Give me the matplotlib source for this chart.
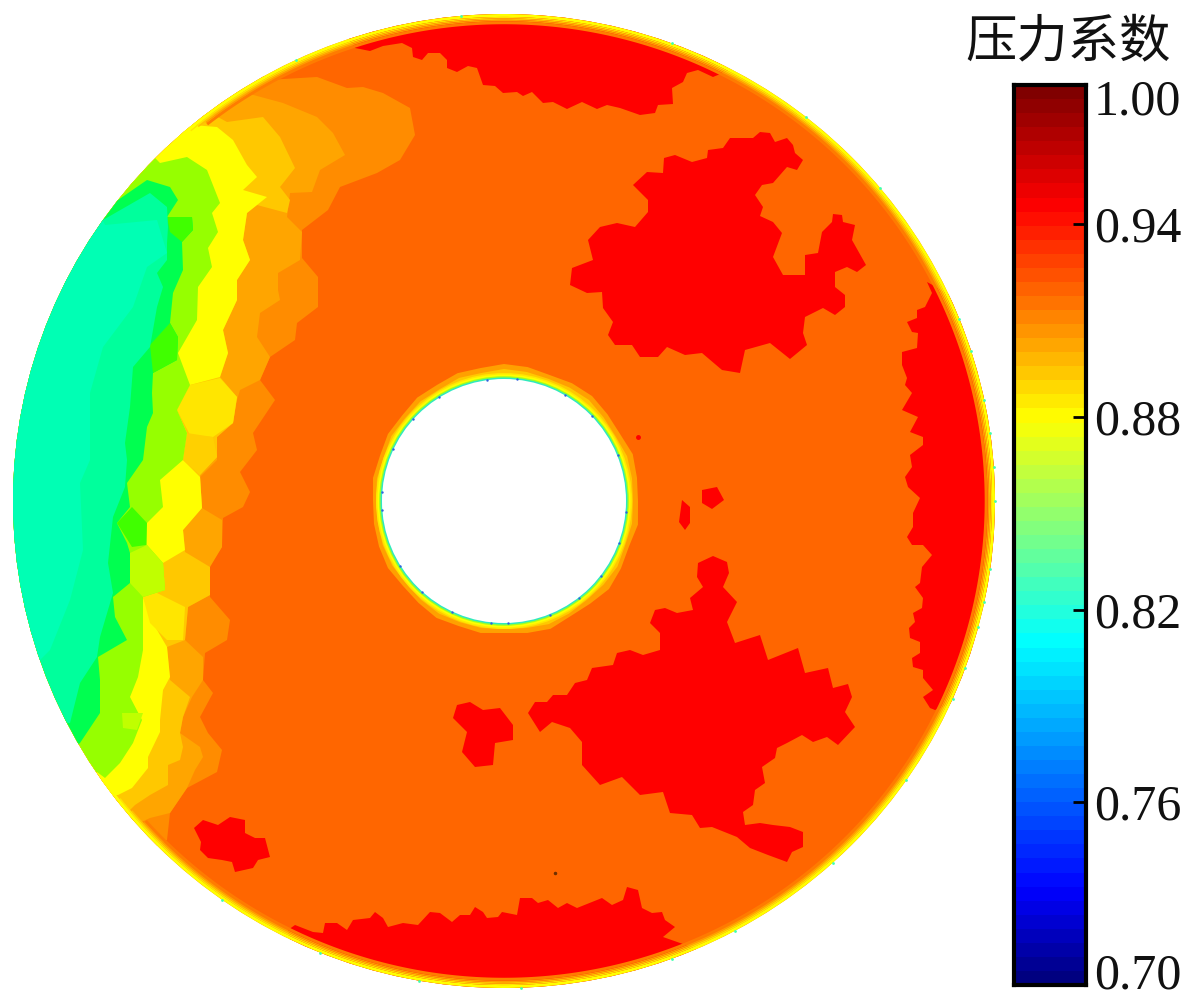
import numpy as np
import matplotlib
matplotlib.use('Agg')
import matplotlib.pyplot as plt
from matplotlib.colors import LinearSegmentedColormap
from matplotlib.patches import Ellipse, Circle

# disk outline in picture pixels
cx, cy = 504, 501
rx, ry = 491, 487
hole_r = 122

# region outlines
band_a = [(250,60),(267,80),(317,77),(347,88),(363,87),(383,93),(410,108),(415,135),(400,160),(377,173),(340,187),(328,210),(302,230),(302,258),(318,277),(318,307),(297,323),(295,340),(270,357),(260,380),(275,400),(253,433),(257,450),(240,472),(250,492),(243,507),(223,518),(222,547),(210,565),(210,597),(230,620),(227,640),(205,653),(203,680),(213,693),(200,717),(208,733),(222,750),(217,772),(187,788),(170,813),(167,840),(150,850),(0,850),(0,0)]
band_b = [(235,90),(283,103),(317,117),(333,133),(345,155),(320,170),(312,192),(290,193),(287,217),(302,232),(300,260),(278,273),(278,290),(280,300),(260,313),(257,337),(270,357),(260,380),(240,390),(237,400),(233,423),(217,437),(217,460),(200,477),(202,508),(222,520),(222,547),(210,567),(210,595),(188,607),(185,640),(203,657),(203,680),(192,697),(183,717),(180,733),(200,747),(203,757),(195,770),(187,788),(170,813),(150,818),(135,825),(0,825),(0,0)]
band_gold = [(205,110),(227,122),(263,117),(280,137),(295,168),(280,187),(290,200),(287,213),(257,205),(247,213),(243,240),(250,260),(237,280),(237,300),(223,330),(228,353),(220,377),(237,397),(233,423),(217,437),(217,457),(200,475),(202,508),(183,530),(185,552),(210,567),(210,595),(188,607),(185,640),(167,647),(170,680),(190,697),(183,717),(180,733),(183,747),(180,760),(168,765),(168,785),(150,795),(135,805),(125,815),(0,815),(0,0)]
band_yellow = [(192,125),(217,127),(233,140),(247,165),(257,177),(243,190),(267,197),(247,213),(243,240),(250,260),(237,280),(237,300),(223,330),(228,353),(220,377),(190,385),(177,410),(187,433),(183,460),(200,477),(202,508),(183,530),(185,550),(163,563),(165,590),(143,597),(153,623),(167,647),(170,677),(163,690),(160,720),(160,732),(148,757),(148,768),(132,788),(118,795),(0,800),(0,0)]
band_lime = [(160,163),(187,157),(207,170),(220,203),(212,213),(218,232),(208,248),(212,267),(198,287),(197,320),(178,353),(190,385),(177,410),(187,433),(183,460),(160,480),(163,507),(147,523),(147,545),(163,563),(165,590),(143,597),(143,650),(138,677),(130,697),(142,720),(133,743),(120,763),(105,778),(97,772),(0,780),(0,0)]
band_green = [(118,200),(147,180),(170,187),(178,200),(167,217),(192,217),(193,230),(182,242),(183,270),(173,293),(170,323),(178,337),(177,360),(153,373),(152,393),(153,413),(147,427),(143,460),(127,483),(130,507),(117,523),(127,543),(130,553),(130,583),(113,597),(115,617),(127,640),(98,657),(100,680),(100,713),(80,743),(70,750),(0,750),(0,0)]
band_teal2 = [(103,220),(150,193),(167,207),(168,227),(167,243),(167,260),(157,273),(163,287),(157,307),(150,347),(133,367),(130,407),(125,443),(127,460),(125,487),(113,517),(108,563),(113,593),(100,637),(97,657),(80,683),(70,723),(0,723),(0,0)]
band_teal = [(105,225),(157,220),(167,253),(147,267),(133,307),(103,347),(90,393),(90,460),(80,483),(83,550),(70,600),(50,650),(40,660),(0,660),(0,0)]

cell_lightgreen = [[(167,217),(192,217),(193,230),(182,242),(170,232)],[(150,345),(170,323),(178,337),(177,360),(153,373)],[(117,523),(132,507),(147,523),(146,545),(132,547)]]
cell_yellowgreen = [[(130,553),(147,545),(163,563),(165,590),(143,597),(130,583)],[(122,713),(143,713),(137,730),(123,728)]]
cell_palegold = [[(177,410),(190,385),(220,378),(237,397),(233,423),(213,437),(190,435)],[(143,597),(155,592),(185,607),(183,640),(167,640),(150,623)]]
cell_gold = [[(187,433),(213,437),(217,457),(200,475),(183,460)]]

red_top = [(355,48),(370,51),(383,46),(402,43),(412,48),(413,57),(422,60),(428,53),(440,53),(447,60),(447,68),(457,72),(468,66),(477,68),(483,85),(495,86),(503,93),(517,92),(523,96),(532,92),(543,103),(553,102),(567,109),(582,102),(597,109),(607,105),(620,108),(640,115),(655,113),(658,105),(673,104),(672,88),(683,82),(687,73),(698,70),(713,77),(730,70),(640,10),(504,0),(400,5),(345,35)]
red_upper = [(633,185),(647,172),(663,173),(664,158),(675,155),(692,162),(707,158),(708,150),(723,148),(730,138),(753,138),(760,132),(770,133),(775,142),(787,138),(793,145),(795,153),(803,160),(797,170),(787,167),(773,183),(762,185),(755,195),(763,207),(760,216),(773,222),(782,233),(773,257),(783,275),(805,275),(805,255),(818,253),(822,232),(832,222),(833,214),(842,215),(843,222),(855,225),(852,240),(866,265),(857,272),(847,267),(835,272),(835,287),(845,295),(845,307),(835,315),(823,308),(805,317),(803,333),(807,345),(790,359),(770,343),(745,350),(740,373),(722,370),(702,353),(685,355),(667,347),(658,357),(640,357),(632,345),(615,345),(608,335),(613,322),(603,308),(602,292),(587,293),(570,285),(572,268),(593,260),(588,240),(600,227),(617,223),(635,227),(648,212),(648,200)]
red_lower = [(528,713),(535,702),(547,702),(553,695),(567,695),(575,683),(587,680),(592,668),(613,665),(617,653),(630,650),(643,655),(660,650),(660,633),(650,623),(655,610),(665,608),(677,613),(693,610),(690,598),(703,587),(697,577),(698,563),(713,556),(727,562),(729,573),(723,587),(737,602),(727,622),(735,643),(760,635),(768,660),(798,648),(805,673),(828,668),(833,688),(848,684),(852,697),(845,712),(855,727),(838,745),(827,737),(813,742),(802,735),(787,743),(777,748),(775,758),(762,767),(765,783),(755,790),(753,805),(743,812),(745,825),(760,823),(773,825),(790,827),(803,832),(803,847),(792,852),(787,862),(768,855),(750,848),(737,837),(727,833),(712,827),(700,828),(692,815),(670,813),(663,792),(640,795),(622,777),(600,785),(582,765),(582,742),(570,728),(552,722),(540,732)]
red_small1 = [(453,718),(457,705),(470,702),(483,710),(500,708),(513,725),(513,740),(495,743),(493,765),(475,767),(462,752),(467,732)]
red_small2 = [(682,500),(690,507),(690,523),(685,530),(679,522)]
red_small3 = [(702,490),(717,487),(724,500),(712,509),(702,503)]
red_left = [(194,828),(203,820),(218,825),(230,817),(245,820),(245,833),(255,838),(265,838),(270,857),(258,860),(253,868),(235,872),(232,862),(222,860),(208,858),(200,850),(201,842)]
red_bottom = [(288,930),(295,925),(313,932),(323,933),(325,923),(337,923),(347,930),(353,920),(370,918),(375,912),(383,918),(388,927),(403,923),(418,925),(430,912),(440,913),(452,922),(460,915),(470,915),(475,907),(483,912),(487,918),(498,917),(502,912),(517,915),(520,898),(532,898),(538,903),(548,900),(558,908),(567,903),(577,908),(602,898),(612,905),(623,900),(627,887),(638,890),(642,908),(652,913),(662,912),(665,920),(675,927),(663,937),(700,950),(620,990),(504,1000),(400,990),(290,945)]
red_right = [(927,282),(932,293),(925,307),(917,310),(917,318),(907,322),(912,332),(918,333),(917,348),(902,352),(902,365),(907,378),(905,385),(912,393),(902,410),(918,417),(910,432),(923,437),(923,445),(910,455),(912,467),(905,477),(908,487),(920,498),(913,513),(913,527),(907,537),(912,545),(923,545),(932,555),(922,567),(920,583),(915,587),(923,598),(922,608),(913,613),(915,622),(909,628),(910,638),(920,642),(920,653),(912,658),(913,667),(923,670),(923,678),(933,690),(923,697),(930,708),(935,710),(960,700),(1010,500),(960,300)]
red_regions = [red_top, red_upper, red_lower, red_small1, red_small2, red_small3, red_left, red_bottom, red_right]

halo_outer = [134,136,133,135,137,134,133,136,134,132,134,133,135,133,132,134,133,132,131,133,132,134,133,135,134,136,135,137,136,134,136,137,135,134,137,135]
halo_inner = [129,130,129,131,130,129,130,131,129,128,129,129,130,129,128,129,129,128,128,129,128,130,129,130,129,131,130,132,131,130,131,132,130,129,131,130]
hole_speck_deg = [5,20,38,52,68,88,96,115,132,148,176,184,205,222,238,262,276,300,316,338]
rim_speck_deg = [-22,-18,-12,-8,-4,0,8,12,15,20,24,35,48,62,70,88,100,112,125,-40,-52,-70,-95,-115]

# colorbar: labels and where they sit on the bar (0 bottom, 1 top)
bar_labels = ['0.70', '0.76', '0.82', '0.88', '0.94', '1.00']
bar_pos = [0.0156, 0.2033, 0.4167, 0.631, 0.8456, 0.987]
bar_jet = [(0,'#000080'),(0.1,'#0000ff'),(0.38,'#00ffff'),(0.631,'#ffff00'),(0.87,'#ff0000'),(1,'#800000')]
title = '压力系数'

fig = plt.figure(figsize=(12, 9.98), dpi=100)
ax = fig.add_axes([0, 0, 1, 1])
ax.set_xlim(0, 1200)
ax.set_ylim(998, 0)
ax.axis('off')

disk = Ellipse((cx, cy), 2*rx, 2*ry, fc='#FF6600', ec='none', zorder=1)
ax.add_patch(disk)

def fill_clip(pts, color, z):
    xy = np.array(pts)
    for p in ax.fill(xy[:,0], xy[:,1], color=color, lw=0, zorder=z):
        p.set_clip_path(disk)

def rim(s0, s1, t0, t1, color):
    t = np.radians(np.linspace(t0, t1, 400))
    x = np.r_[cx + rx*s0*np.cos(t), cx + rx*s1*np.cos(t[::-1])]
    y = np.r_[cy + ry*s0*np.sin(t), cy + ry*s1*np.sin(t[::-1])]
    ax.fill(x, y, color=color, lw=0, zorder=5)

fill_clip(band_a, '#FF8C00', 2)
fill_clip(band_b, '#FFA500', 2.1)
fill_clip(band_gold, '#FFC800', 2.2)
fill_clip(band_yellow, '#FFFF00', 2.3)
for c in cell_palegold:
    fill_clip(c, '#FFE600', 2.35)
for c in cell_gold:
    fill_clip(c, '#FFD000', 2.35)
fill_clip(band_lime, '#96FF00', 2.4)
for c in cell_yellowgreen:
    fill_clip(c, '#C0FF00', 2.45)
fill_clip(band_green, '#00FF50', 2.5)
for c in cell_lightgreen:
    fill_clip(c, '#40FF00', 2.55)
fill_clip(band_teal2, '#00FF9C', 2.6)
fill_clip(band_teal, '#00FFB4', 2.7)

for r in red_regions:
    fill_clip(r, '#FF0000', 3)
ax.plot([638], [437], 'o', ms=2.5, color='#FF0000', zorder=3)
ax.plot([555], [873], 'o', ms=1.5, color='#703000', zorder=3)

# bright rim along the edge, it stops where the low pressure side starts
rim(0.985, 0.979, 232, 498, '#FF7C00')
rim(0.988, 0.985, 232, 498, '#FF9C00')
rim(0.991, 0.988, 231, 500, '#FFC000')
rim(0.994, 0.991, 230, 502, '#FFE400')
rim(1.000, 0.994, 228, 505, '#FFFF00')
sp = np.radians(rim_speck_deg)
ax.scatter(cx + rx*np.cos(sp), cy + ry*np.sin(sp), s=4, color='#40FFB0', lw=0, zorder=6)

# halo round the hole
ang = np.linspace(0, 2*np.pi, len(halo_outer), endpoint=False)
for radii, col in [(halo_outer, '#FFA000'), (halo_inner, '#FFC800')]:
    rr = np.array(radii + radii[:1])
    aa = np.r_[ang, ang[0]]
    ax.fill(cx + rr*np.cos(aa), cy + rr*np.sin(aa), color=col, lw=0, zorder=6)
for r, col in [(128, '#FFE800'), (126.5, '#FFFF00'), (124.8, '#A0FF20'), (123.5, '#30E8C0'), (hole_r, 'white')]:
    ax.add_patch(Circle((cx, cy), r, fc=col, ec='none', zorder=7))
sp = np.radians(hole_speck_deg)
ax.scatter(cx + 122.5*np.cos(sp), cy + 122.5*np.sin(sp), s=3, color='#3060E0', lw=0, zorder=8)

ax.text(1068, 42, title, family=['Noto Sans CJK SC', 'DejaVu Sans'], fontsize=37,
        ha='center', va='center', color='#111111')

# colorbar
cax = fig.add_axes([1014/1200, 13/998, 71.5/1200, 900/998])
cmap = LinearSegmentedColormap.from_list('bar', bar_jet, N=64)
levels = np.linspace(0, 1, 65)
cax.pcolormesh([0, 1], levels, ((levels[:-1] + levels[1:])/2)[:, None], cmap=cmap, vmin=0, vmax=1)
cax.set_xlim(0, 1)
cax.set_ylim(0, 1)
cax.set_xticks([])
cax.yaxis.tick_right()
cax.set_yticks(bar_pos)
cax.set_yticklabels(bar_labels, family='Liberation Serif', fontsize=36, color='#111111')
cax.tick_params(axis='y', direction='in', length=9.4, width=2, pad=6)
for i in [0, len(bar_pos)-1]:
    cax.yaxis.get_major_ticks()[i].tick2line.set_visible(False)
for s in cax.spines.values():
    s.set_linewidth(3)

fig.savefig('out.png', dpi=100)
